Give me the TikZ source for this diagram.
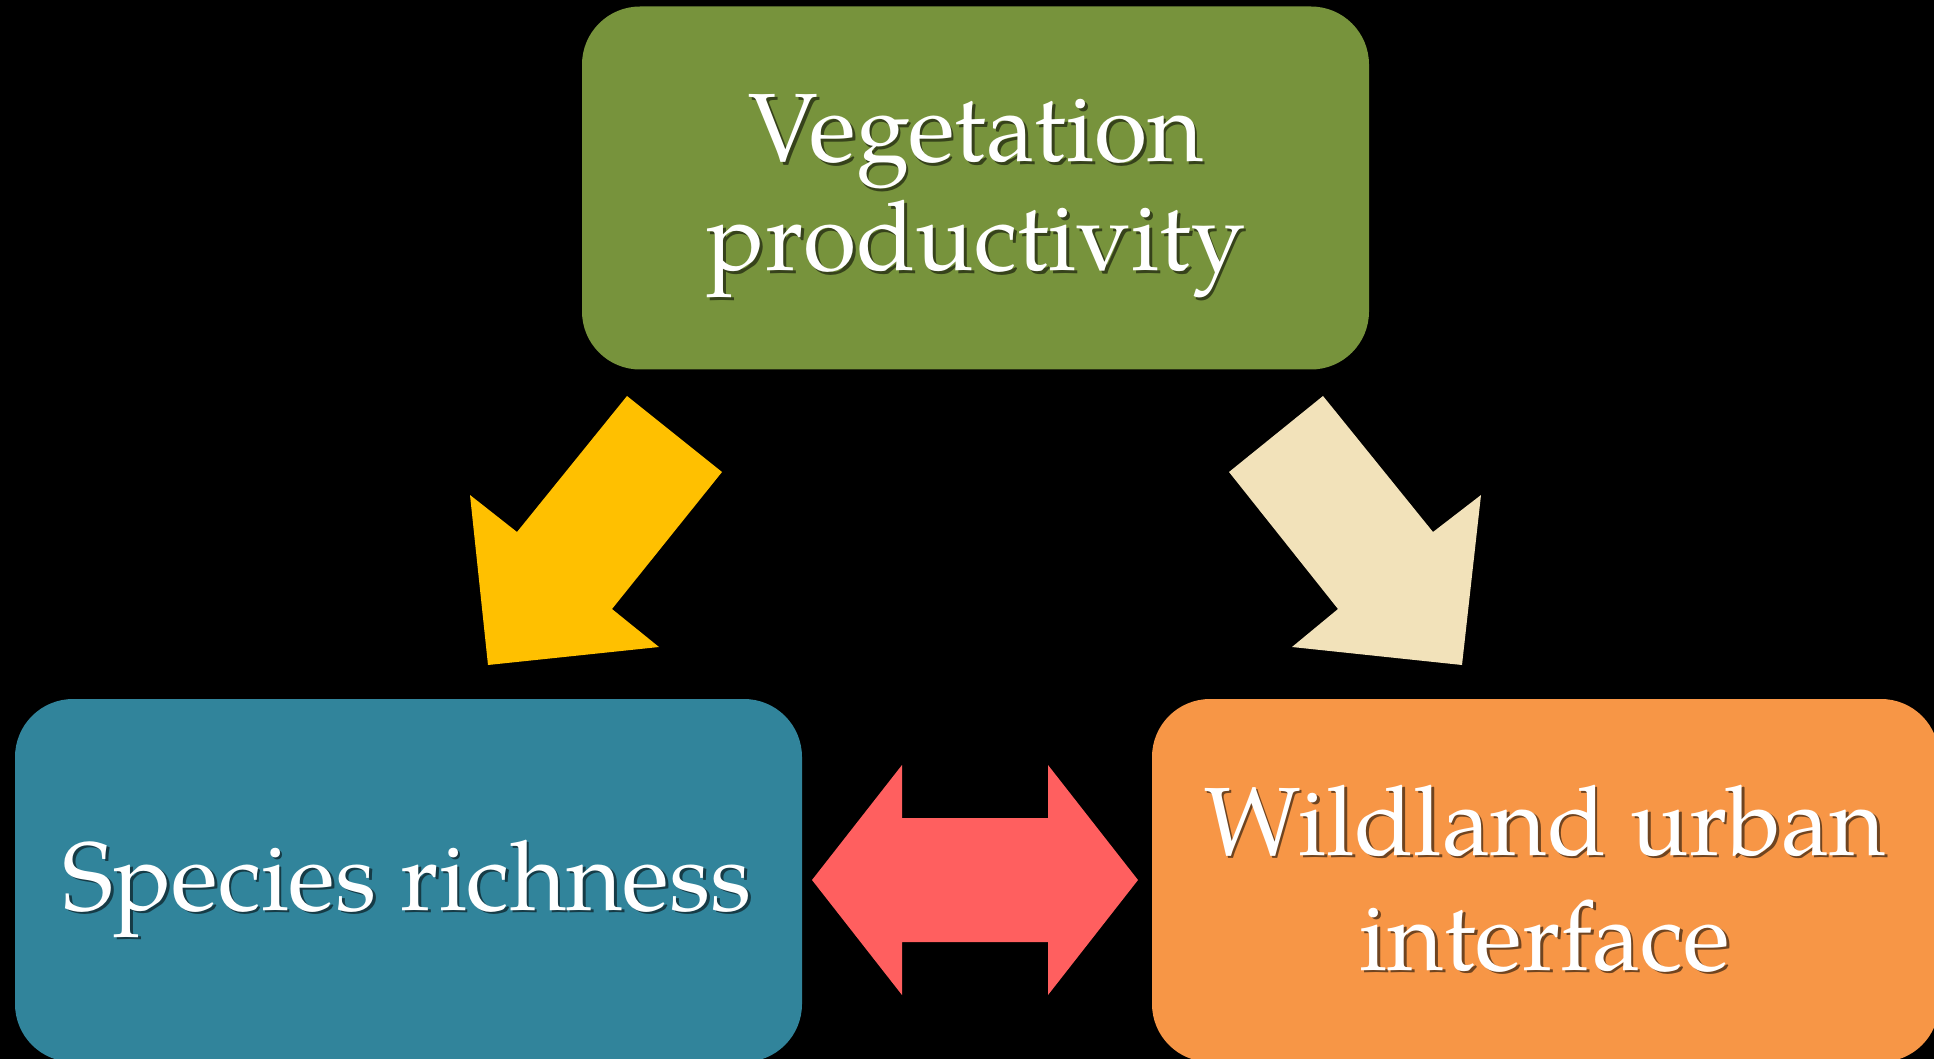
\documentclass[tikz,border=0pt]{standalone}
\usepackage{fontspec}
\setmainfont{TeX Gyre Pagella}
\definecolor{vgreen}{HTML}{77933C}
\definecolor{sblue}{HTML}{31849B}
\definecolor{worange}{HTML}{F79646}
\definecolor{ayellow}{HTML}{FFC000}
\definecolor{abeige}{HTML}{F2E2BA}
\definecolor{ared}{HTML}{FF5F5F}
\newcommand{\shtext}[2]{\makebox[0pt][l]{\hspace{1.4pt}\raisebox{-1.4pt}{\textcolor{#1}{#2}}}#2}
\begin{document}
\begin{tikzpicture}[x=0.5pt,y=-0.5pt,
  box/.style={rectangle, draw=none, rounded corners=29pt, minimum width=393.5pt, minimum height=181.5pt, inner sep=0pt},
  txt/.style={anchor=base, inner sep=0pt, text=white, font=\fontsize{48.5}{56}\selectfont}]
\fill[black] (0,0) rectangle (1934,1059);
\useasboundingbox (0,0) rectangle (1934,1059);
\clip (0,0) rectangle (1934,1059);

% boxes
\node[box, fill=vgreen] (veg) at (975.5,188) {};
\node[box, fill=sblue] (spec) at (408.5,880.5) {};
\node[box, fill=worange] (wui) at (1545.5,880.5) {};

% block arrows
\fill[ayellow] (627,396) -- (722,472) -- (612,609) -- (659,647) -- (488,665) -- (470,495) -- (517,532) -- cycle;
\fill[abeige] (1323,396) -- (1229,472) -- (1338,609) -- (1292,647) -- (1462,665) -- (1481,495) -- (1433,532) -- cycle;
\fill[ared] (812,880) -- (902,765) -- (902,818) -- (1048,818) -- (1048,765) -- (1138,880) -- (1048,995) -- (1048,942) -- (902,942) -- (902,995) -- cycle;

% text
\node[txt] (vegA) at (976,162) {\shtext{vgreen!45!black}{Vegetation}};
\node[txt] (vegB) at (976,271) {\shtext{vgreen!45!black}{productivity}};
\node[txt] (specA) at (407,910) {\shtext{sblue!45!black}{Species richness}};
\node[txt] (wuiA) at (1545,855) {\shtext{worange!45!black}{Wildland urban}};
\node[txt] (wuiB) at (1545,970) {\shtext{worange!45!black}{interface}};
\end{tikzpicture}
\end{document}
